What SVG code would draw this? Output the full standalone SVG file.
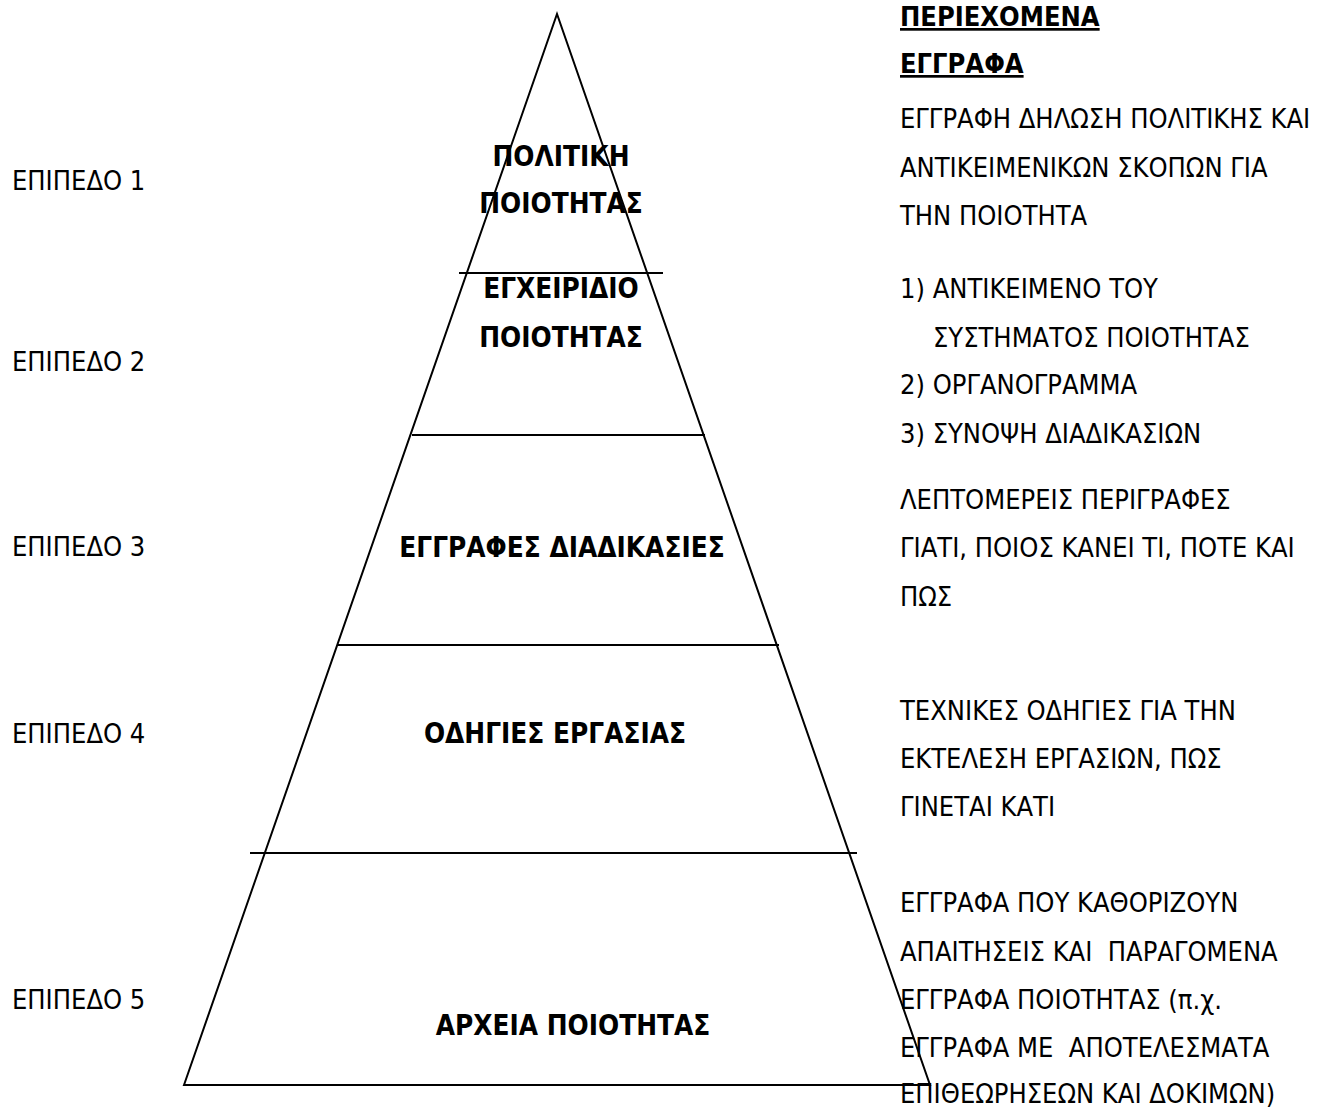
<svg xmlns="http://www.w3.org/2000/svg" width="1331" height="1109" viewBox="0 0 1331 1109">
<style>
  text { font-family: "DejaVu Sans Condensed", "DejaVu Sans", sans-serif; font-stretch: condensed; fill: #000; }
  .r { font-size: 27px; }
  .b { font-size: 27.7px; font-weight: bold; text-anchor: middle; }
  .h { font-size: 27px; font-weight: bold; text-decoration: underline; }
  .ln { stroke: #000; stroke-width: 2; fill: none; }
</style>
<rect width="1331" height="1109" fill="#fff"/>
<g id="connectors">
  <path class="ln" d="M184,1085 L557,14 L930,1085 Z"/>
  <line class="ln" x1="459" y1="273" x2="663" y2="273"/>
  <line class="ln" x1="412" y1="435" x2="705" y2="435"/>
  <line class="ln" x1="337" y1="645" x2="779" y2="645"/>
  <line class="ln" x1="250" y1="853" x2="857" y2="853"/>
</g>
<g id="level1">
  <text class="r" x="12" y="190">ΕΠΙΠΕΔΟ 1</text>
  <text class="b" x="561" y="166">ΠΟΛΙΤΙΚΗ</text>
  <text class="b" x="561" y="213">ΠΟΙΟΤΗΤΑΣ</text>
</g>
<g id="level2">
  <text class="r" x="12" y="371">ΕΠΙΠΕΔΟ 2</text>
  <text class="b" x="561" y="298">ΕΓΧΕΙΡΙΔΙΟ</text>
  <text class="b" x="561" y="347">ΠΟΙΟΤΗΤΑΣ</text>
</g>
<g id="level3">
  <text class="r" x="12" y="556">ΕΠΙΠΕΔΟ 3</text>
  <text class="b" x="562" y="557">ΕΓΓΡΑΦΕΣ ΔΙΑΔΙΚΑΣΙΕΣ</text>
</g>
<g id="level4">
  <text class="r" x="12" y="743">ΕΠΙΠΕΔΟ 4</text>
  <text class="b" x="555" y="743">ΟΔΗΓΙΕΣ ΕΡΓΑΣΙΑΣ</text>
</g>
<g id="level5">
  <text class="r" x="12" y="1009">ΕΠΙΠΕΔΟ 5</text>
  <text class="b" x="573" y="1035">ΑΡΧΕΙΑ ΠΟΙΟΤΗΤΑΣ</text>
</g>
<g id="contents">
  <text class="h" x="900" y="26">ΠΕΡΙΕΧΟΜΕΝΑ</text>
  <text class="h" x="900" y="73">ΕΓΓΡΑΦΑ</text>
  <text class="r" x="900" y="128">ΕΓΓΡΑΦΗ ΔΗΛΩΣΗ ΠΟΛΙΤΙΚΗΣ ΚΑΙ</text>
  <text class="r" x="900" y="177">ΑΝΤΙΚΕΙΜΕΝΙΚΩΝ ΣΚΟΠΩΝ ΓΙΑ</text>
  <text class="r" x="900" y="225">ΤΗΝ ΠΟΙΟΤΗΤΑ</text>
  <text class="r" x="900" y="298">1) ΑΝΤΙΚΕΙΜΕΝΟ ΤΟΥ</text>
  <text class="r" x="933" y="347">ΣΥΣΤΗΜΑΤΟΣ ΠΟΙΟΤΗΤΑΣ</text>
  <text class="r" x="900" y="394">2) ΟΡΓΑΝΟΓΡΑΜΜΑ</text>
  <text class="r" x="900" y="443">3) ΣΥΝΟΨΗ ΔΙΑΔΙΚΑΣΙΩΝ</text>
  <text class="r" x="900" y="509">ΛΕΠΤΟΜΕΡΕΙΣ ΠΕΡΙΓΡΑΦΕΣ</text>
  <text class="r" x="900" y="557">ΓΙΑΤΙ, ΠΟΙΟΣ ΚΑΝΕΙ ΤΙ, ΠΟΤΕ ΚΑΙ</text>
  <text class="r" x="900" y="606">ΠΩΣ</text>
  <text class="r" x="900" y="720">ΤΕΧΝΙΚΕΣ ΟΔΗΓΙΕΣ ΓΙΑ ΤΗΝ</text>
  <text class="r" x="900" y="768">ΕΚΤΕΛΕΣΗ ΕΡΓΑΣΙΩΝ, ΠΩΣ</text>
  <text class="r" x="900" y="816">ΓΙΝΕΤΑΙ ΚΑΤΙ</text>
  <text class="r" x="900" y="912">ΕΓΓΡΑΦΑ ΠΟΥ ΚΑΘΟΡΙΖΟΥΝ</text>
  <text class="r" x="900" y="961" xml:space="preserve">ΑΠΑΙΤΗΣΕΙΣ ΚΑΙ  ΠΑΡΑΓΟΜΕΝΑ</text>
  <text class="r" x="900" y="1009">ΕΓΓΡΑΦΑ ΠΟΙΟΤΗΤΑΣ (π.χ.</text>
  <text class="r" x="900" y="1057" xml:space="preserve">ΕΓΓΡΑΦΑ ΜΕ  ΑΠΟΤΕΛΕΣΜΑΤΑ</text>
  <text class="r" x="900" y="1103">ΕΠΙΘΕΩΡΗΣΕΩΝ ΚΑΙ ΔΟΚΙΜΩΝ)</text>
</g>
</svg>
